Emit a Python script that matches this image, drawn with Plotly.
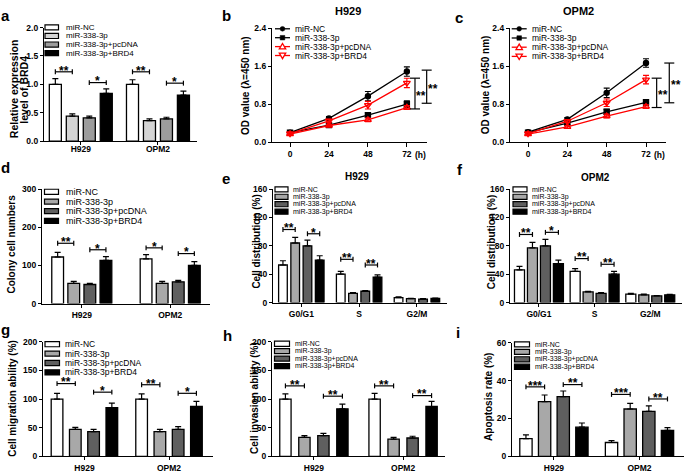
import plotly.graph_objects as go

W, H = 685, 476
FONT = "Liberation Sans, Arial, sans-serif"

SERIES = ["miR-NC", "miR-338-3p", "miR-338-3p+pcDNA", "miR-338-3p+BRD4"]

# ---------------- data ----------------
cell_cats = ["H929", "OPM2"]
phase_cats = ["G0/G1", "S", "G2/M"]

a_vals = [[1.00, 1.00], [0.44, 0.36], [0.41, 0.39], [0.84, 0.81]]
a_errs = [[0.10, 0.08], [0.04, 0.03], [0.03, 0.03], [0.08, 0.07]]
a_sig = [(0, 0, 1, 1.22, "**"), (0, 2, 3, 1.03, "*"), (1, 0, 1, 1.22, "**"), (1, 2, 3, 1.02, "*")]

hours = [0, 24, 48, 72]
hour_labels = ["0", "24", "48", "72"]
b_vals = [[0.20, 0.50, 0.97, 1.49], [0.20, 0.36, 0.57, 0.80], [0.17, 0.35, 0.47, 0.73], [0.18, 0.45, 0.78, 1.25]]
b_errs = [[0.03, 0.04, 0.10, 0.10], [0.02, 0.03, 0.05, 0.07], [0.02, 0.03, 0.04, 0.04], [0.02, 0.03, 0.08, 0.10]]
b_sig = [(77.0, 0.70, 1.35, "**"), (84.2, 0.82, 1.52, "**")]
c_vals = [[0.21, 0.48, 1.04, 1.67], [0.20, 0.40, 0.64, 0.84], [0.17, 0.32, 0.55, 0.75], [0.18, 0.44, 0.83, 1.32]]
c_errs = [[0.02, 0.04, 0.10, 0.09], [0.02, 0.03, 0.05, 0.06], [0.02, 0.03, 0.04, 0.04], [0.02, 0.03, 0.08, 0.09]]
c_sig = [(78.5, 0.73, 1.35, "**"), (86.2, 0.83, 1.67, "**")]

d_vals = [[122, 117], [53, 53], [50, 57], [113, 100]]
d_errs = [[12, 11], [5, 5], [3, 4], [10, 10]]
d_sig = [(0, 0, 1, 158, "**"), (0, 2, 3, 141, "*"), (1, 0, 1, 146, "*"), (1, 2, 3, 131, "*")]

e_vals = [[53, 40, 7], [84, 13, 5.5], [80, 16, 5], [60, 36, 6]]
e_errs = [[6, 4, 1], [8, 1, 0.5], [8, 1, 0.5], [6, 3, 0.5]]
e_sig = [(0, 0, 1, 103, "**"), (0, 2, 3, 97, "*"), (1, 0, 1, 61, "**"), (1, 2, 3, 53, "**")]

f_vals = [[46, 44, 12], [77, 15, 11], [80, 13, 9.5], [55, 40, 11]]
f_errs = [[5, 4, 1], [8, 1, 1], [9, 1, 0.5], [5, 4, 0.5]]
f_sig = [(0, 0, 1, 96, "**"), (0, 2, 3, 99, "*"), (1, 0, 1, 62, "**"), (1, 2, 3, 54, "**")]

g_vals = [[100, 100], [47, 43], [43, 47], [85, 87]]
g_errs = [[10, 9], [3.5, 4], [4, 5], [8, 9]]
g_sig = [(0, 0, 1, 127, "**"), (0, 2, 3, 112, "*"), (1, 0, 1, 125, "**"), (1, 2, 3, 110, "*")]

h_vals = [[100, 100], [33, 30], [36, 32], [83, 87]]
h_errs = [[9, 10], [3, 3], [4, 3], [8, 9]]
h_sig = [(0, 0, 1, 123, "**"), (0, 2, 3, 105, "**"), (1, 0, 1, 123, "**"), (1, 2, 3, 106, "**")]

i_vals = [[9.3, 7.3], [28.9, 25.0], [31.5, 23.7], [15.4, 13.7]]
i_errs = [[2.0, 1.0], [3.5, 3.0], [3.0, 3.0], [2.2, 1.5]]
i_sig = [(0, 0, 1, 36.7, "***"), (0, 2, 3, 37.9, "**"), (1, 0, 1, 32.7, "***"), (1, 2, 3, 30.3, "**")]

# ---------------- geometry / style ----------------
COL_A = ["#ffffff", "#d4d4d4", "#9c9c9c", "#000000"]
COL_B = ["#ffffff", "#a8a8a8", "#5f5f5f", "#000000"]
LSTYLE = [("black", "circle", 5), ("black", "square", 5), ("red", "triangle-up-open", 6), ("red", "triangle-down-open", 6)]

PANELS = {
    "a": dict(ax=1, box=(44, 197, 23, 139), xr=(-0.477, 1.506), yr=(0, 2.0), dtick=0.5, fmt=".1f", slot=0.22, bw=0.156),
    "b": dict(ax=2, box=(272, 427, 24, 140), xr=(-11.1, 84.4), yr=(0, 2.4), dtick=0.8, fmt=".1f"),
    "c": dict(ax=3, box=(510, 666, 24, 140), xr=(-11.0, 84.2), yr=(0, 2.4), dtick=0.8, fmt=".1f"),
    "d": dict(ax=4, box=(42, 210, 188, 305), xr=(-0.45, 1.45), yr=(0, 300), dtick=100, fmt="d", slot=0.182, bw=0.133),
    "e": dict(ax=5, box=(273, 447, 188, 304), xr=(-0.49, 2.52), yr=(0, 160), dtick=40, fmt="d", slot=0.212, bw=0.15),
    "f": dict(ax=6, box=(510, 682, 188, 304), xr=(-0.52, 2.57), yr=(0, 160), dtick=40, fmt="d", slot=0.233, bw=0.18),
    "g": dict(ax=7, box=(43, 213, 344, 461), xr=(-0.49, 1.52), yr=(0, 200), dtick=50, fmt="d", slot=0.216, bw=0.138),
    "h": dict(ax=8, box=(272, 445, 344, 461), xr=(-0.47, 1.47), yr=(0, 200), dtick=50, fmt="d", slot=0.213, bw=0.127),
    "i": dict(ax=9, box=(512, 684, 345, 461), xr=(-0.49, 1.52), yr=(0, 60), dtick=20, fmt="d", slot=0.218, bw=0.144),
}
STAR = 12

shapes, annots = [], []


def fx(px):
    return px / W


def fy(py):
    return 1 - py / H


def X(p, v):
    x0, x1, _, _ = PANELS[p]["box"]
    a, b = PANELS[p]["xr"]
    return x0 + (v - a) / (b - a) * (x1 - x0)


def Y(p, v):
    _, _, yt, yb = PANELS[p]["box"]
    a, b = PANELS[p]["yr"]
    return yb - (v - a) / (b - a) * (yb - yt)


def seg(x0, y0, x1, y1, color="black", w=1.2):
    shapes.append(dict(type="line", xref="paper", yref="paper", x0=fx(x0), y0=fy(y0), x1=fx(x1), y1=fy(y1),
                       line=dict(color=color, width=w)))


def label(x, y, s, size, bold=False, xa="center", ya="middle", angle=0, color="black"):
    annots.append(dict(x=fx(x), y=fy(y), xref="paper", yref="paper", text=s, showarrow=False,
                       xanchor=xa, yanchor=ya, textangle=angle, borderpad=0,
                       font=dict(family=FONT, size=size, color=color, weight="bold" if bold else "normal")))


def axref(p):
    n = PANELS[p]["ax"]
    return ("x" if n == 1 else f"x{n}"), ("y" if n == 1 else f"y{n}")


fig = go.Figure()


def add_bars(p, cats, vals, errs, colors):
    xa, ya = axref(p)
    slot, bw = PANELS[p]["slot"], PANELS[p]["bw"]
    for i, name in enumerate(SERIES):
        fig.add_trace(go.Bar(
            x=cats, y=vals[i], name=name, width=bw, offset=(i - 1.5) * slot - bw / 2,
            marker=dict(color=colors[i], line=dict(color="black", width=1.3)),
            error_y=dict(type="data", array=errs[i], arrayminus=[0] * len(cats), symmetric=False,
                         color="black", thickness=1.2, width=3),
            xaxis=xa, yaxis=ya, showlegend=False))


def add_lines(p, vals, errs):
    xa, ya = axref(p)
    for i, name in enumerate(SERIES):
        col, sym, sz = LSTYLE[i]
        fig.add_trace(go.Scatter(
            x=hours, y=vals[i], name=name, mode="lines+markers",
            line=dict(color=col, width=1.3),
            marker=dict(symbol=sym, size=sz, color=col, line=dict(color=col, width=1.4)),
            error_y=dict(type="data", array=errs[i], symmetric=True, color=col, thickness=1.1, width=3),
            xaxis=xa, yaxis=ya, showlegend=False))


def hbracket(p, k, i, j, yv, s):
    slot = PANELS[p]["slot"]
    xa_ = X(p, k + (i - 1.5) * slot)
    xb_ = X(p, k + (j - 1.5) * slot)
    yy = Y(p, yv)
    seg(xa_, yy, xb_, yy)
    seg(xa_, yy - 2.5, xa_, yy + 2.5)
    seg(xb_, yy - 2.5, xb_, yy + 2.5)
    label((xa_ + xb_) / 2, yy - 1.2, s, STAR, True)


def vbracket(p, xh, y0, y1, s):
    xx = X(p, xh)
    ya_, yb_ = Y(p, y0), Y(p, y1)
    seg(xx, ya_, xx, yb_)
    seg(xx - 5, ya_, xx + 5, ya_)
    seg(xx - 5, yb_, xx + 5, yb_)
    label(xx + 0.5, (ya_ + yb_) / 2 + 2.6, s, STAR, True, xa="left")


def bar_legend(bx0, bx1, rows, tx, size, colors):
    for yy, s, c in zip(rows, SERIES, colors):
        shapes.append(dict(type="rect", xref="paper", yref="paper", x0=fx(bx0), x1=fx(bx1),
                           y0=fy(yy + 2.6), y1=fy(yy - 2.6), fillcolor=c, line=dict(color="black", width=1.2)))
        label(tx, yy, s, size, xa="left")


def line_legend(lx0, lx1, rows, tx, size):
    for k, (yy, s) in enumerate(zip(rows, SERIES)):
        col = LSTYLE[k][0]
        seg(lx0, yy, lx1, yy, col, 1.3)
        cx = (lx0 + lx1) / 2
        if k == 0:
            shapes.append(dict(type="circle", xref="paper", yref="paper", x0=fx(cx - 2.4), x1=fx(cx + 2.4),
                               y0=fy(yy + 2.4), y1=fy(yy - 2.4), fillcolor=col, line=dict(color=col, width=0.5)))
        elif k == 1:
            shapes.append(dict(type="rect", xref="paper", yref="paper", x0=fx(cx - 2.3), x1=fx(cx + 2.3),
                               y0=fy(yy + 2.3), y1=fy(yy - 2.3), fillcolor=col, line=dict(color=col, width=0.5)))
        else:
            d = 1 if k == 2 else -1
            pts = [(cx - 3.2, yy + 2.4 * d), (cx + 3.2, yy + 2.4 * d), (cx, yy - 3.2 * d)]
            path = "M " + " L ".join(f"{fx(a):.5f},{fy(b):.5f}" for a, b in pts) + " Z"
            shapes.append(dict(type="path", xref="paper", yref="paper", path=path, fillcolor="white",
                               line=dict(color=col, width=1.3)))
        label(tx, yy, s, size, xa="left")


# ---------------- traces ----------------
add_bars("a", cell_cats, a_vals, a_errs, COL_A)
add_lines("b", b_vals, b_errs)
add_lines("c", c_vals, c_errs)
add_bars("d", cell_cats, d_vals, d_errs, COL_B)
add_bars("e", phase_cats, e_vals, e_errs, COL_B)
add_bars("f", phase_cats, f_vals, f_errs, COL_B)
add_bars("g", cell_cats, g_vals, g_errs, COL_B)
add_bars("h", cell_cats, h_vals, h_errs, COL_B)
add_bars("i", cell_cats, i_vals, i_errs, COL_B)

# ---------------- axes ----------------
layout_axes = {}
TICKF = dict(family=FONT, size=8.5, color="black", weight="bold")
for p, cfg in PANELS.items():
    n = cfg["ax"]
    x0, x1, yt, yb = cfg["box"]
    xk = "xaxis" if n == 1 else f"xaxis{n}"
    yk = "yaxis" if n == 1 else f"yaxis{n}"
    xa, ya = axref(p)
    common = dict(showline=True, linecolor="black", linewidth=1.3, ticks="outside", tickcolor="black",
                  tickwidth=1.2, showgrid=False, zeroline=False, tickfont=TICKF)
    xax = dict(common, domain=[fx(x0), fx(x1)], anchor=ya, range=list(cfg["xr"]), ticklen=3)
    if p in ("b", "c"):
        xax.update(tickmode="array", tickvals=hours, ticktext=hour_labels, ticklen=4, ticklabelstandoff=0)
    else:
        xax.update(type="category")
        if p == "a":
            xax.update(ticklabelstandoff=-3)
    yax = dict(common, domain=[fy(yb), fy(yt)], anchor=xa, range=list(cfg["yr"]), dtick=cfg["dtick"],
               tick0=0, tickformat=cfg["fmt"], ticklen=3)
    layout_axes[xk] = xax
    layout_axes[yk] = yax

# ---------------- brackets ----------------
for p, sig in (("a", a_sig), ("d", d_sig), ("e", e_sig), ("f", f_sig), ("g", g_sig), ("h", h_sig), ("i", i_sig)):
    for k, i, j, yv, s in sig:
        hbracket(p, k, i, j, yv, s)
for p, sig in (("b", b_sig), ("c", c_sig)):
    for xh, y0, y1, s in sig:
        vbracket(p, xh, y0, y1, s)

# ---------------- legends ----------------
bar_legend(45, 58.5, [22.8, 31.6, 40.4, 49.2], 65, 8, COL_A)
bar_legend(44.5, 58.5, [190.8, 200.8, 210.6, 220.6], 65, 9, COL_B)
bar_legend(275, 288, [188.3, 195.9, 203.5, 211.1], 292, 7, COL_B)
bar_legend(513, 527, [188.3, 195.9, 203.5, 211.1], 531, 7, COL_B)
bar_legend(45, 59.5, [346.5, 356.1, 365.7, 375.3], 63.5, 8.5, COL_B)
bar_legend(274.5, 289.5, [346.0, 353.6, 361.2, 368.8], 293.5, 7, COL_B)
bar_legend(514.5, 529.5, [346.7, 354.3, 361.9, 369.5], 533.5, 7, COL_B)
line_legend(275, 290, [24.3, 33.4, 42.5, 51.6], 293.5, 8.5)
line_legend(511.7, 526.7, [24.3, 33.7, 43.1, 52.5], 531, 8.5)

# ---------------- texts ----------------
for s, x, y in (("a", 5.5, 11), ("b", 226.5, 11), ("c", 459, 12.5), ("d", 5.5, 166), ("e", 226, 177.5),
                ("f", 459.5, 168), ("g", 5.5, 331), ("h", 227.5, 337.5), ("i", 458.5, 335)):
    label(x, y, s, 15, True)
label(347.5, 6, "H929", 11, True)
label(578, 6, "OPM2", 11, True)
label(357, 175.5, "H929", 10, True)
label(595, 176.5, "OPM2", 10, True)
label(14, 86, "Relative expression", 10.5, True, angle=-90)
label(24.5, 86, "level of BRD4", 10.5, True, angle=-90)
label(245.7, 82, "OD value (λ=450 nm)", 10, True, angle=-90)
label(485, 82, "OD value (λ=450 nm)", 10, True, angle=-90)
label(11.7, 244, "Colony cell numbers", 10, True, angle=-90)
label(256.7, 242, "Cell distribution (%)", 10, True, angle=-90)
label(492.3, 242, "Cell distribution (%)", 10, True, angle=-90)
label(11.7, 401.5, "Cell migration ability (%)", 10, True, angle=-90)
label(254.3, 401, "Cell invasion ability (%)", 10, True, angle=-90)
label(488.3, 400, "Apoptosis rate (%)", 10, True, angle=-90)
label(X("b", 72) + 7, 153.5, "(h)", 8.5, True, xa="left")
label(X("c", 72) + 7, 153.5, "(h)", 8.5, True, xa="left")

fig.update_layout(
    width=W, height=H, margin=dict(l=0, r=0, t=0, b=0),
    paper_bgcolor="white", plot_bgcolor="rgba(0,0,0,0)",
    showlegend=False, shapes=shapes, annotations=annots,
    font=dict(family=FONT, color="black"),
    **layout_axes,
)

fig.write_html("out.html", config={"displayModeBar": False},
               post_script="document.body.style.margin='0px';document.body.style.overflow='hidden';")
